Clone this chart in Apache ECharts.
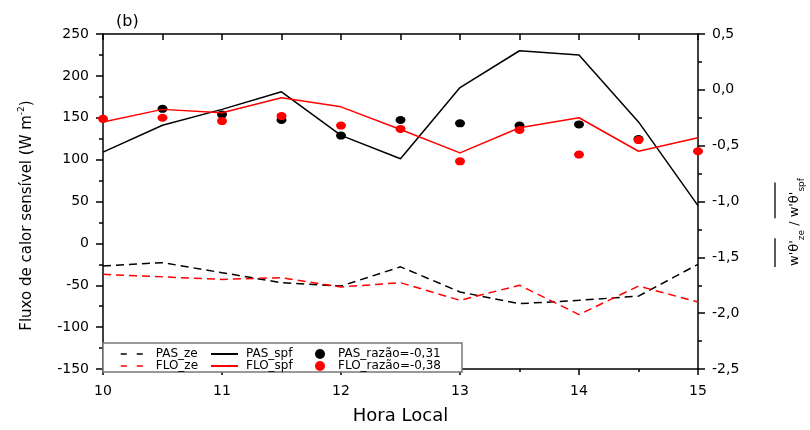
<!DOCTYPE html>
<html>
<head>
<meta charset="utf-8">
<script src="https://cdn.jsdelivr.net/npm/echarts@6/dist/echarts.min.js"></script>
<style>html,body{margin:0;padding:0;background:#fff}#c{width:810px;height:430px}</style>
</head>
<body>
<div id="c"></div>
<script>
const hours = [10, 10.5, 11, 11.5, 12, 12.5, 13, 13.5, 14, 14.5, 15];
const pasSpf = [109, 141, 160, 181, 129, 101, 186, 230, 225, 145, 45];
const floSpf = [145, 160, 156, 174, 163, 136, 108, 138, 150, 110, 126];
const pasZe = [-27, -23, -35, -47, -51, -28, -58, -72, -68, -63, -25];
const floZe = [-37, -40, -43, -41, -52, -47, -68, -50, -85, -51, -70];
const pasRazao = [null, -0.17, -0.22, -0.27, -0.41, -0.27, -0.30, -0.32, -0.31, -0.44, null];
const floRazao = [-0.26, -0.25, -0.28, -0.235, -0.32, -0.35, -0.64, -0.36, -0.58, -0.45, -0.55];
const leftTicks = { min: -150, max: 250, interval: 50 };
const rightTicks = { min: -2.5, max: 0.5, interval: 0.5 };

const FONT = '"DejaVu Sans", sans-serif';
const pairs = arr => hours.map((h, i) => [h, arr[i]]);

const chart = echarts.init(document.getElementById('c'), null, { renderer: 'canvas' });

// measure right-axis label parts for overlines
const cv = document.createElement('canvas').getContext('2d');
function tw(t, size) { cv.font = size + 'px ' + FONT; return cv.measureText(t).width; }
const MS = 13, SS = 9;
const wMain = tw("w'θ'", MS), wZe = tw('ze', SS), wSl = tw(' / ', MS), wSpf = tw('spf', SS);
const totalW = wMain + wZe + wSl + wMain + wSpf;
const start1 = -totalW / 2;
const start2 = start1 + wMain + wZe + wSl;

const axisLineStyle = { color: '#000', width: 1.5 };
const labelStyle = { color: '#000', fontSize: 14, fontFamily: FONT };
const legendText = { fontSize: 12, fontFamily: FONT, color: '#000', lineHeight: 12 };

const option = {
  animation: false,
  backgroundColor: '#fff',
  title: {
    text: '(b)', left: 111, top: 9,
    textStyle: { fontSize: 16, fontWeight: 'normal', color: '#000', fontFamily: FONT }
  },
  grid: { left: 103, right: 112, top: 34, bottom: 56 },
  xAxis: [
    {
      type: 'value', min: 10, max: 15, interval: 1, position: 'bottom',
      axisLine: { show: true, lineStyle: axisLineStyle, onZero: false },
      axisTick: { show: true, inside: false, length: 6, lineStyle: { color: '#000', width: 1.5 } },
      minorTick: { show: true, splitNumber: 2, length: 3, lineStyle: { color: '#000', width: 1.5 } },
      axisLabel: Object.assign({ margin: 15 }, labelStyle),
      splitLine: { show: false }, minorSplitLine: { show: false },
      name: 'Hora Local', nameLocation: 'middle', nameGap: 38,
      nameTextStyle: { fontSize: 18, color: '#000', fontFamily: FONT }
    },
    {
      type: 'value', min: 10, max: 15, interval: 0.5, position: 'top',
      axisLine: { show: true, lineStyle: axisLineStyle, onZero: false },
      axisTick: { show: true, inside: true, length: 6, lineStyle: { color: '#000', width: 1.5 } },
      axisLabel: { show: false }, splitLine: { show: false }
    }
  ],
  yAxis: [
    {
      type: 'value', min: leftTicks.min, max: leftTicks.max, interval: leftTicks.interval, position: 'left',
      axisLine: { show: true, lineStyle: axisLineStyle, onZero: false },
      axisTick: { show: true, inside: false, length: 7, lineStyle: { color: '#000', width: 1.5 } },
      minorTick: { show: true, splitNumber: 2, length: 4, lineStyle: { color: '#000', width: 1.5 } },
      axisLabel: Object.assign({ margin: 14 }, labelStyle),
      splitLine: { show: false }, minorSplitLine: { show: false },
      name: '{m|Fluxo de calor sensível (W m}{s|-2}{m|)}',
      nameLocation: 'middle', nameGap: 68,
      nameTextStyle: {
        color: '#000', fontFamily: FONT, padding: [0, 28, 0, 0],
        rich: {
          m: { fontSize: 15, fontFamily: FONT, color: '#000', lineHeight: 18, verticalAlign: 'bottom' },
          s: { fontSize: 9, fontFamily: FONT, color: '#000', lineHeight: 10, verticalAlign: 'top' }
        }
      }
    },
    {
      type: 'value', min: rightTicks.min, max: rightTicks.max, interval: rightTicks.interval, position: 'right',
      axisLine: { show: true, lineStyle: axisLineStyle, onZero: false },
      axisTick: { show: true, inside: false, length: 7, lineStyle: { color: '#000', width: 1.5 } },
      minorTick: { show: true, splitNumber: 2, length: 4, lineStyle: { color: '#000', width: 1.5 } },
      axisLabel: Object.assign({ margin: 14, formatter: v => v.toFixed(1).replace('.', ',') }, labelStyle),
      splitLine: { show: false }, minorSplitLine: { show: false }
    }
  ],
  legend: [
    {
      orient: 'vertical', left: 115, top: 343, itemWidth: 22, itemHeight: 10, itemGap: 0, z: 6,
      data: ['PAS_ze', 'FLO_ze'], selectedMode: false,
      itemStyle: { opacity: 0 },
      lineStyle: { type: [6, 10], width: 1.5 },
      textStyle: Object.assign({ padding: [0, 0, 0, 8] }, legendText)
    },
    {
      orient: 'vertical', left: 205, top: 343, itemWidth: 27, itemHeight: 10, itemGap: 0, z: 6,
      data: ['PAS_spf', 'FLO_spf'], selectedMode: false,
      itemStyle: { opacity: 0 },
      textStyle: Object.assign({ padding: [0, 0, 0, 3] }, legendText)
    },
    {
      orient: 'vertical', left: 310, top: 343, itemWidth: 10, itemHeight: 10, itemGap: 0, z: 6,
      data: ['PAS_razão=-0,31', 'FLO_razão=-0,38'], selectedMode: false,
      textStyle: Object.assign({ padding: [0, 0, 0, 8] }, legendText)
    }
  ],
  graphic: [
    {
      type: 'rect', z: 5, silent: true,
      shape: { x: 103, y: 343, width: 359, height: 29 },
      style: { fill: '#fff', stroke: '#777', lineWidth: 1.5 }
    },
    {
      type: 'group', x: 797, y: 222, rotation: Math.PI / 2, z: 10,
      children: [
        {
          type: 'text', x: 0, y: 0,
          style: {
            text: "{m|w'θ'}{s|ze}{m| / w'θ'}{s|spf}",
            align: 'center', verticalAlign: 'middle',
            rich: {
              m: { fontSize: MS, fontFamily: FONT, fill: '#000', lineHeight: 18, verticalAlign: 'top' },
              s: { fontSize: SS, fontFamily: FONT, fill: '#000', lineHeight: 10, verticalAlign: 'bottom' }
            }
          }
        },
        {
          type: 'line', shape: { x1: start1 - 1, y1: -22, x2: start1 + wMain + 2, y2: -22 },
          style: { stroke: '#000', lineWidth: 1.3 }
        },
        {
          type: 'line', shape: { x1: start2 - 1, y1: -22, x2: start2 + wMain + 9, y2: -22 },
          style: { stroke: '#000', lineWidth: 1.3 }
        }
      ]
    }
  ],
  series: [
    {
      name: 'PAS_ze', type: 'line', xAxisIndex: 0, yAxisIndex: 0, data: pairs(pasZe),
      symbol: 'none', lineStyle: { color: '#000', width: 1.5, type: [8, 5] }, itemStyle: { color: '#000' }
    },
    {
      name: 'FLO_ze', type: 'line', xAxisIndex: 0, yAxisIndex: 0, data: pairs(floZe),
      symbol: 'none', lineStyle: { color: '#ff0000', width: 1.5, type: [8, 5] }, itemStyle: { color: '#ff0000' }
    },
    {
      name: 'PAS_spf', type: 'line', xAxisIndex: 0, yAxisIndex: 0, data: pairs(pasSpf),
      symbol: 'none', lineStyle: { color: '#000', width: 1.5 }, itemStyle: { color: '#000' }
    },
    {
      name: 'FLO_spf', type: 'line', xAxisIndex: 0, yAxisIndex: 0, data: pairs(floSpf),
      symbol: 'none', lineStyle: { color: '#ff0000', width: 1.5 }, itemStyle: { color: '#ff0000' }
    },
    {
      name: 'PAS_razão=-0,31', type: 'scatter', xAxisIndex: 0, yAxisIndex: 1, data: pairs(pasRazao),
      symbol: 'circle', symbolSize: [10, 8], clip: true, itemStyle: { color: '#000', opacity: 1 }
    },
    {
      name: 'FLO_razão=-0,38', type: 'scatter', xAxisIndex: 0, yAxisIndex: 1, data: pairs(floRazao),
      symbol: 'circle', symbolSize: [10, 8], clip: true, itemStyle: { color: '#ff0000', opacity: 1 }
    }
  ]
};
chart.setOption(option);
</script>
</body>
</html>
